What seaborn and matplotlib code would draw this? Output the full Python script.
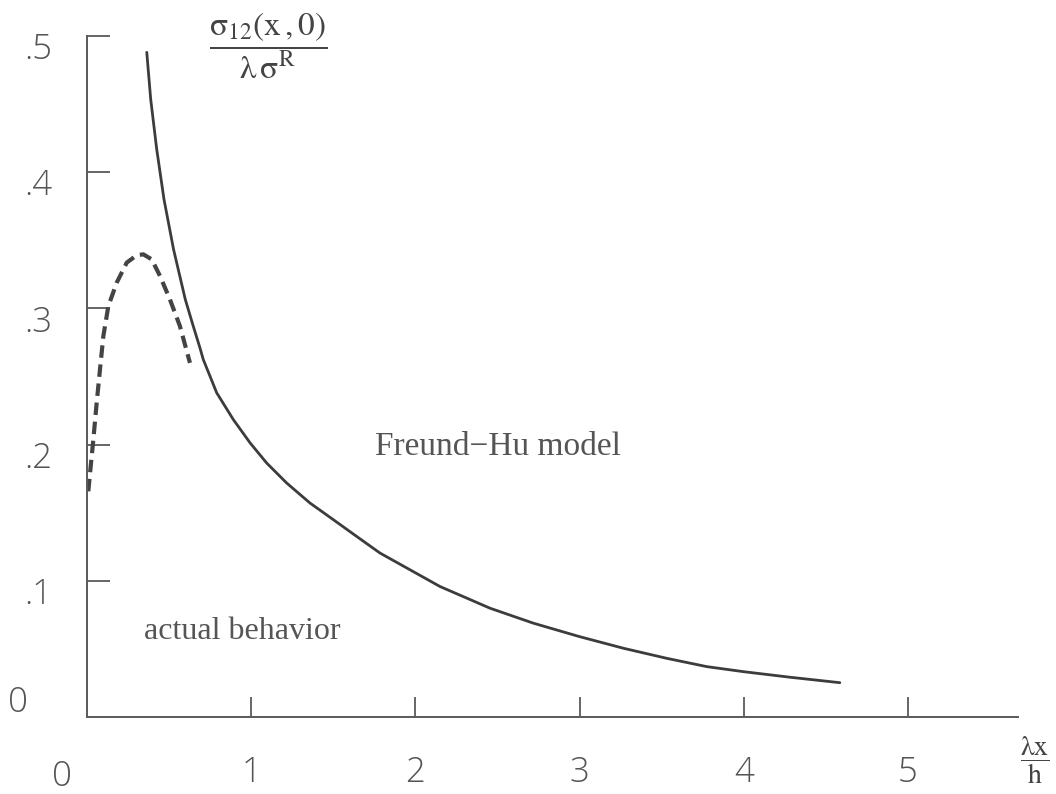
import matplotlib
matplotlib.use("Agg")
import matplotlib.pyplot as plt
import matplotlib.transforms as mtransforms
import seaborn as sns
import pandas as pd

# ---- data ----
model_x = [0.364, 0.388, 0.4245, 0.469, 0.527, 0.5986, 0.647, 0.688, 0.708, 0.790,
           0.891, 0.993, 1.094, 1.216, 1.358, 1.500, 1.642, 1.784, 1.967, 2.150,
           2.454, 2.718, 3.0, 3.266, 3.530, 3.774, 3.997, 4.281, 4.585]
model_y = [0.488, 0.4535, 0.4169, 0.380, 0.3434, 0.3066, 0.287, 0.271, 0.2625, 0.2380,
           0.2184, 0.2013, 0.1865, 0.1718, 0.1571, 0.1449, 0.1326, 0.1204, 0.1081, 0.0958,
           0.0799, 0.0689, 0.0590, 0.0505, 0.0431, 0.0370, 0.0333, 0.0292, 0.0252]

actual_x = [0.008, 0.0225, 0.0386, 0.059, 0.079, 0.0995, 0.130, 0.181, 0.242, 0.3025,
            0.343, 0.394, 0.4446, 0.505, 0.566, 0.627]
actual_y = [0.1657, 0.184, 0.2037, 0.2307, 0.2551, 0.2796, 0.3017, 0.3189, 0.3336, 0.339,
            0.3397, 0.336, 0.3238, 0.3066, 0.287, 0.260]

x_ticks = [1, 2, 3, 4, 5]
x_tick_labels = ["1", "2", "3", "4", "5"]
y_ticks = [0.1, 0.2, 0.3, 0.4, 0.5]
y_tick_labels = [".1", ".2", ".3", ".4", ".5"]

label_model = "Freund\u2212Hu model"
label_actual = "actual behavior"

sns.set_theme(style="white")
plt.rcParams["mathtext.fontset"] = "stix"

ink = "#3c3c3c"
axis_col = "#5a5a5a"
num_col = "#555555"
num_font = ["Open Sans", "DejaVu Sans"]
num_weight = "light"
num_size = 25

fig = plt.figure(figsize=(10.56, 7.94), dpi=100)
ax = fig.add_axes([87 / 1056, 77 / 794, (1018 - 87) / 1056, (717 - 36) / 794])

df_model = pd.DataFrame({"x": model_x, "y": model_y})
df_actual = pd.DataFrame({"x": actual_x, "y": actual_y})

sns.lineplot(data=df_model, x="x", y="y", ax=ax, color=ink, lw=2.0,
             sort=False, estimator=None)
sns.lineplot(data=df_actual, x="x", y="y", ax=ax, color="#444444", lw=3.0,
             sort=False, estimator=None, linestyle=(0, (3.0, 1.6)))

ax.set_xlim(0, (1018 - 87) / 164.2)
ax.set_ylim(0, 0.5)

for s in ["top", "right"]:
    ax.spines[s].set_visible(False)
for s in ["left", "bottom"]:
    ax.spines[s].set_color(axis_col)
    ax.spines[s].set_linewidth(1.4)

ax.set_xticks(x_ticks)
ax.set_xticklabels(x_tick_labels)
ax.set_yticks(y_ticks)
ax.set_yticklabels(y_tick_labels)
ax.tick_params(axis="x", bottom=True, direction="in", length=14.4, width=1.3,
               color=axis_col, pad=28, labelsize=num_size, labelcolor=num_col)
ax.tick_params(axis="y", left=True, direction="in", length=16.5, width=1.3,
               color=axis_col, pad=25, labelsize=num_size, labelcolor=num_col)
for lab in ax.get_xticklabels() + ax.get_yticklabels():
    lab.set_family(num_font)
    lab.set_fontweight(num_weight)
# y tick labels sit slightly below their ticks in the reference
off = mtransforms.ScaledTranslation(0, -10 / 100, fig.dpi_scale_trans)
for lab in ax.get_yticklabels():
    lab.set_transform(lab.get_transform() + off)

ax.set_xlabel("")
ax.set_ylabel("")

# the two "0" labels
fig.text(18 / 1056, 1 - 703 / 794, "0", ha="center", va="center", fontsize=num_size,
         color=num_col, family=num_font, fontweight=num_weight)
fig.text(62 / 1056, 1 - 777 / 794, "0", ha="center", va="center", fontsize=num_size,
         color=num_col, family=num_font, fontweight=num_weight)

# axis titles as fractions
fig.text(268 / 1056, 1 - 46 / 794,
         r"$\dfrac{\mathrm{\sigma}_{12}(\mathrm{x}\,,0)}{\mathrm{\lambda}\,\mathrm{\sigma}^{\mathrm{R}}}$",
         ha="center", va="center", fontsize=24, color="#444444")
fig.text(1035 / 1056, 1 - 760 / 794,
         r"$\dfrac{\mathrm{\lambda x}}{\mathrm{h}}$",
         ha="center", va="center", fontsize=20, color="#444444")

# annotations
ax.text(1.756, 0.1985, label_model, fontsize=24, family="Liberation Serif",
        color="#555555", ha="left", va="center")
ax.text(0.35, 0.063, label_actual, fontsize=23, family="Liberation Serif",
        color="#555555", ha="left", va="center")

fig.savefig("out.png", dpi=100, facecolor="white")
